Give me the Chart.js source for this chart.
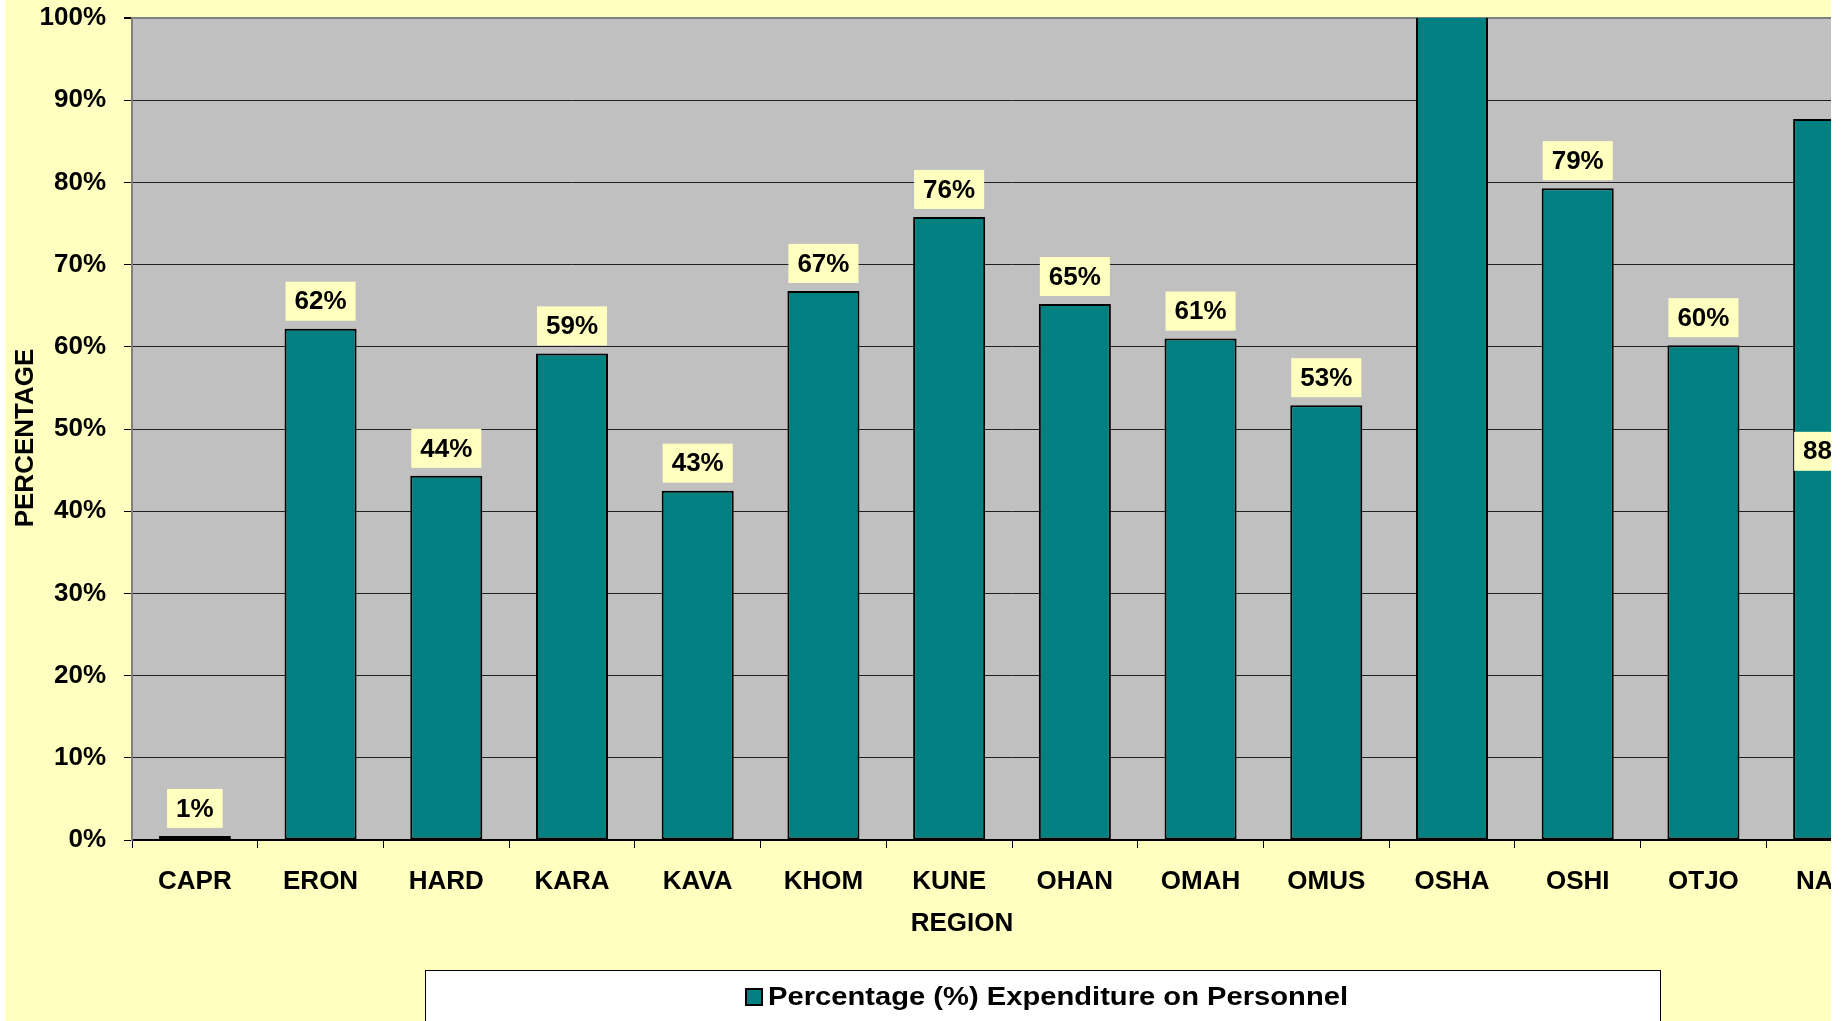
<!DOCTYPE html>
<html>
<head>
<meta charset="utf-8">
<script src="https://cdn.jsdelivr.net/npm/chart.js@4"></script>
<style>
  html, body { margin: 0; padding: 0; background: #ffffff; }
  #wrap { position: absolute; left: 5px; top: 0; width: 1826px; height: 1021px; overflow: hidden; }
  #chart_personnel { display: block; }
</style>
</head>
<body>
<div id="wrap">
  <canvas id="chart_personnel" width="1960" height="1021"></canvas>
</div>
<script>
// data
const regions = ['CAPR', 'ERON', 'HARD', 'KARA', 'KAVA', 'KHOM', 'KUNE', 'OHAN', 'OMAH', 'OMUS', 'OSHA', 'OSHI', 'OTJO', 'NAMI'];
const personnelPct = [0.5, 62.2, 44.3, 59.2, 42.5, 66.8, 75.8, 65.2, 61.0, 52.9, 105, 79.3, 60.2, 87.7];
const yTicks = [0, 10, 20, 30, 40, 50, 60, 70, 80, 90, 100];
const seriesName = 'Percentage (%) Expenditure on Personnel';
const xTitle = 'REGION';
const yTitle = 'PERCENTAGE';

const FONT = "'Liberation Sans', Arial, sans-serif";
const BG_YELLOW = '#FFFFC0';
const PLOT_GRAY = '#C0C0C0';
const TEAL = '#008080';

// yellow page + gray plot area
const backgroundPlugin = {
    id: 'bg',
    beforeDraw(chart) {
        const ctx = chart.ctx;
        const a = chart.chartArea;
        ctx.save();
        ctx.fillStyle = BG_YELLOW;
        ctx.fillRect(0, 0, chart.width, chart.height);
        ctx.fillStyle = PLOT_GRAY;
        ctx.fillRect(a.left, a.top, a.right - a.left, a.bottom - a.top);
        ctx.restore();
    }
};

// value boxes above the bars
const labelPlugin = {
    id: 'valueLabels',
    afterDatasetsDraw(chart) {
        const ctx = chart.ctx;
        const meta = chart.getDatasetMeta(0);
        const yMax = chart.scales.y.max;
        const last = meta.data.length - 1;
        ctx.save();
        ctx.font = 'bold 26px ' + FONT;
        ctx.textAlign = 'center';
        ctx.textBaseline = 'middle';
        meta.data.forEach(function (bar, i) {
            const v = chart.data.datasets[0].data[i];
            if (v > yMax) return;
            const txt = Math.round(v) + '%';
            const w = ctx.measureText(txt).width + 18;
            const h = 39;
            let cy = bar.y - 8 - h / 2;
            if (i === last) cy = (bar.y + bar.base) / 2 - 28;
            ctx.fillStyle = BG_YELLOW;
            ctx.fillRect(bar.x - w / 2, cy - h / 2, w, h);
            ctx.fillStyle = '#000';
            ctx.fillText(txt, bar.x, cy + 1);
        });
        ctx.restore();
    }
};

// axis titles and boxed legend, as Excel placed them
const titlesPlugin = {
    id: 'titlesLegend',
    afterDraw(chart) {
        const ctx = chart.ctx;
        ctx.save();
        ctx.fillStyle = '#000';
        ctx.font = 'bold 26px ' + FONT;
        ctx.textAlign = 'center';
        ctx.textBaseline = 'middle';
        ctx.fillText(xTitle, 957, 924);

        ctx.save();
        ctx.translate(21, 438);
        ctx.rotate(-Math.PI / 2);
        ctx.fillText(yTitle, 0, 0);
        ctx.restore();

        // legend box
        ctx.fillStyle = '#ffffff';
        ctx.fillRect(420, 970, 1235, 60);
        ctx.strokeStyle = '#000';
        ctx.lineWidth = 1;
        ctx.strokeRect(420.5, 970.5, 1235, 60);

        const ds = chart.data.datasets[0];
        ctx.fillStyle = ds.backgroundColor;
        ctx.fillRect(741, 989, 16, 16);
        ctx.lineWidth = 2;
        ctx.strokeRect(741, 989, 16, 16);

        // Excel draws this legend text a bit wider than the axis text
        ctx.fillStyle = '#000';
        ctx.textAlign = 'left';
        ctx.textBaseline = 'alphabetic';
        const tw = ctx.measureText(ds.label).width;
        ctx.translate(763, 1005);
        ctx.scale(580 / tw, 1);
        ctx.fillText(ds.label, 0, 0);
        ctx.restore();
    }
};

new Chart(document.getElementById('chart_personnel'), {
    type: 'bar',
    data: {
        labels: regions,
        datasets: [{
            label: seriesName,
            data: personnelPct,
            backgroundColor: TEAL,
            borderColor: '#000000',
            borderWidth: 2,
            borderSkipped: false,
            categoryPercentage: 1.0,
            barPercentage: 0.573,
            clip: 0
        }]
    },
    options: {
        responsive: false,
        animation: false,
        layout: {
            padding: {left: 0, top: 18, right: 73, bottom: 0}
        },
        scales: {
            x: {
                afterFit: function (s) { s.height = 181; },
                grid: {
                    offset: true,
                    drawOnChartArea: false,
                    drawTicks: true,
                    tickLength: 8,
                    color: '#000'
                },
                border: {display: true, color: '#000', width: 2},
                ticks: {
                    color: '#000',
                    padding: 18,
                    maxRotation: 0,
                    autoSkip: false,
                    font: {family: FONT, size: 26, weight: 'bold'}
                }
            },
            y: {
                min: 0,
                max: 100,
                afterFit: function (s) {
                    s.width = 127;
                    // don't let label padding push the plot down
                    s.paddingTop = 0;
                    s.paddingBottom = 0;
                },
                afterBuildTicks: function (s) { s.ticks = yTicks.map(v => ({value: v})); },
                grid: {
                    color: function (c) { return c.tick && c.tick.value === 100 ? '#808080' : '#202020'; },
                    lineWidth: function (c) { return c.tick && c.tick.value === 100 ? 2 : 1; },
                    tickColor: '#000',
                    tickLength: 8
                },
                border: {display: true, color: '#808080', width: 2},
                ticks: {
                    color: '#000',
                    padding: 18,
                    font: {family: FONT, size: 26, weight: 'bold'},
                    callback: function (v) { return v + '%'; }
                }
            }
        },
        plugins: {
            legend: {display: false},
            tooltip: {enabled: false}
        }
    },
    plugins: [backgroundPlugin, labelPlugin, titlesPlugin]
});
</script>
</body>
</html>
